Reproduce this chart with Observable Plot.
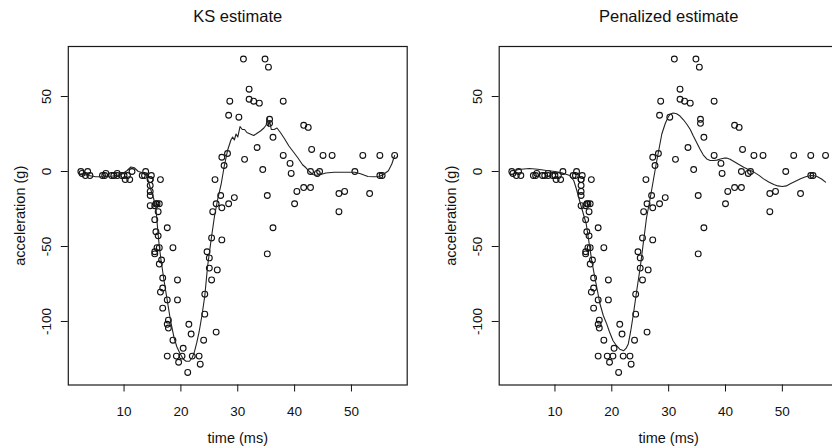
<!DOCTYPE html>
<html><head><meta charset="utf-8">
<script src="https://cdn.jsdelivr.net/npm/d3@7"></script>
<script src="https://cdn.jsdelivr.net/npm/@observablehq/plot@0.6"></script>
<style>
html,body{margin:0;padding:0;background:#fff;}
#wrap{position:relative;width:832px;height:448px;overflow:hidden;background:#fff;}
.panel{position:absolute;top:0;}
.panel svg{max-width:none !important;display:block;}
</style></head><body><div id="wrap"></div>
<script>
// mcycle data
const times = [2.4,2.6,3.2,3.6,4.0,6.2,6.6,6.8,7.8,8.2,8.8,8.8,9.6,10.0,10.2,10.6,11.0,11.4,13.2,13.6,13.8,14.6,14.6,14.6,14.6,14.6,14.6,14.8,15.4,15.4,15.4,15.4,15.6,15.6,15.8,15.8,16.0,16.0,16.2,16.2,16.2,16.4,16.4,16.6,16.8,16.8,16.8,17.6,17.6,17.6,17.6,17.8,17.8,18.6,18.6,19.2,19.4,19.4,19.6,20.2,20.4,21.2,21.4,21.8,22.0,23.2,23.4,24.0,24.2,24.2,24.6,25.0,25.0,25.4,25.4,25.6,26.0,26.2,26.2,26.4,27.0,27.2,27.2,27.2,27.6,28.2,28.4,28.4,28.6,29.4,30.2,31.0,31.2,32.0,32.0,32.8,33.4,33.8,34.4,34.8,35.2,35.2,35.4,35.6,35.6,36.2,36.2,38.0,38.0,39.2,39.4,40.0,40.4,41.6,41.6,42.4,42.8,42.8,43.0,44.0,44.4,45.0,46.6,47.8,47.8,48.8,50.6,52.0,53.2,55.0,55.0,55.4,57.6];
const accel = [0.0,-1.3,-2.7,0.0,-2.7,-2.7,-2.7,-1.3,-2.7,-2.7,-1.3,-2.7,-2.7,-2.7,-5.4,-2.7,-5.4,0.0,-2.7,-2.7,0.0,-13.3,-5.4,-5.4,-9.3,-16.0,-22.8,-2.7,-22.8,-32.1,-53.5,-54.9,-40.2,-21.5,-21.5,-50.8,-42.9,-26.8,-21.5,-50.8,-61.7,-5.4,-80.4,-59.0,-71.0,-91.1,-77.7,-37.5,-85.6,-123.1,-101.9,-99.1,-104.4,-112.5,-50.8,-123.1,-85.6,-72.3,-127.2,-123.1,-117.9,-134.0,-101.9,-108.4,-123.1,-123.1,-128.5,-112.5,-95.1,-81.8,-53.5,-64.4,-57.6,-72.3,-44.3,-26.8,-5.4,-107.1,-21.5,-65.6,-16.0,-45.6,-24.2,9.5,4.0,12.0,-21.5,37.5,46.9,-17.4,36.2,75.0,8.1,54.9,48.2,46.9,16.0,45.6,1.3,75.0,-16.0,-54.9,69.6,34.8,32.1,-37.5,22.8,46.9,10.7,5.4,-1.3,-21.5,-13.3,30.8,-10.7,29.4,0.0,-10.7,14.7,-1.3,0.0,10.7,10.7,-26.8,-14.7,-13.3,0.0,10.7,-14.7,-2.7,10.7,-2.7,10.7];

// KS estimate curve
const ksTime  = [2.4,3.5,5.0,6.5,8.0,9.5,10.5,11.2,11.8,12.5,13.5,14.0,14.7,15.2,15.6,15.9,16.2,16.5,17.0,17.6,18.2,18.8,19.3,19.8,20.4,20.9,21.5,22.0,22.4,22.8,23.2,23.7,24.2,24.7,25.3,25.9,26.5,27.1,27.6,28.2,28.8,29.1,29.4,29.7,30.0,30.4,30.8,31.2,31.6,32.2,32.8,33.4,34.0,34.6,35.0,35.2,35.4,35.6,35.9,36.4,36.9,37.5,38.2,39.0,39.8,40.6,41.4,42.0,42.6,43.2,43.8,44.6,45.5,47.0,49.0,50.6,51.6,52.9,54.0,54.9,55.6,56.5,57.1,57.6];
const ksAccel = [-1.5,-2.5,-3.5,-3.5,-3,-2,0.5,3,2.5,0,-1,-3,-12,-18,-24,-38,-50,-59,-72,-86,-100,-111,-117,-121,-125,-126.5,-126.5,-124,-120,-114,-107,-96,-83,-63,-46,-30,-18,-8,3,14,21,23,21,25,23,30,28,28,26,25,24,25.5,27,29,31,36,30,34,28,28,29,26,22,17,13,9,4.5,2.5,0,-2,-2.5,-2,-1,-0.5,-0.5,-0.5,-1.5,-3.3,-3.5,-3.3,-2,0.5,5,10.7];

// Penalized estimate curve
const penTime  = [2.4,4.0,5.5,7.0,8.5,10.0,11.4,12.6,13.3,13.8,14.3,14.9,15.5,16.1,16.5,17.0,17.5,17.9,18.5,19.1,19.6,20.2,20.8,21.4,22.1,22.5,22.9,23.3,23.8,24.4,25.0,25.6,26.1,26.7,27.3,27.9,28.4,28.8,29.4,29.9,30.3,30.8,31.4,32.0,32.6,33.2,33.8,34.3,34.9,35.5,36.1,36.7,37.3,37.9,38.5,39.1,39.7,40.2,40.8,41.4,42.3,43.2,44.1,45.0,45.9,46.7,47.6,48.5,49.2,50.0,50.7,51.4,52.3,53.2,54.1,55.0,55.6,56.1,56.9,57.6];
const penAccel = [0.5,1.5,2,1.5,0.7,0,-1.1,-2.7,-6,-12,-19,-27,-35,-50,-60,-70.4,-80,-88,-96,-101.6,-107,-112.7,-116,-118.5,-119.5,-118,-115,-107,-95,-79,-64,-46,-31,-19,-6,7,17,25,32,36.2,38.4,39,38.5,37,34.5,31.5,28,24,19.5,15,11,8.4,7.3,7.3,7.6,8.4,8.9,9,8.2,6.9,4.8,2.9,1.2,-0.4,-2.6,-4.9,-7,-8.7,-9.6,-10,-9.6,-8.2,-6.5,-4.9,-3.5,-2.7,-2.8,-3.3,-5,-7.1];

const xTicks = [10,20,30,40,50];
const yTicks = [-100,-50,0,50];
const titles = ["KS estimate","Penalized estimate"];
const xLabel = "time (ms)";
const yLabel = "acceleration (g)";

const pts = times.map((t,i)=>({t, a: accel[i]}));
const ks = ksTime.map((t,i)=>({t, a: ksAccel[i]}));
const pen = penTime.map((t,i)=>({t, a: penAccel[i]}));

const FONT = "'Liberation Sans', Arial, Helvetica, sans-serif";
const INK = "#111";

function panel(title, curve, left, width, marginLeft, marginRight) {
  const svg = Plot.plot({
    width, height: 448,
    marginTop: 46, marginBottom: 63.5, marginLeft, marginRight,
    x: {domain: [0.192, 59.808]},
    y: {domain: [-142.36, 83.36]},
    style: {fontFamily: FONT, fontSize: "13.5px", background: "white", color: INK, overflow: "visible", maxWidth: "none"},
    marks: [
      Plot.axisX({ticks: xTicks, tickSize: 7, tickPadding: 14, tickFormat: d => String(d), fontSize: 13.5, label: null, strokeWidth: 1}),
      Plot.axisY({ticks: yTicks, tickSize: 7, tickFormat: () => "", label: null, strokeWidth: 1}),
      Plot.text(yTicks, {y: d => d, text: d => String(d), frameAnchor: "left", dx: -21.5, rotate: -90, textAnchor: "middle", lineAnchor: "middle", fontSize: 13.5, fill: INK}),
      Plot.text([yLabel], {frameAnchor: "left", dx: -47.5, rotate: -90, textAnchor: "middle", lineAnchor: "middle", fontSize: 14.5, fill: INK}),
      Plot.text([xLabel], {frameAnchor: "bottom", dy: 53.5, textAnchor: "middle", lineAnchor: "middle", fontSize: 14.5, fill: INK}),
      Plot.text([title], {frameAnchor: "top", dy: -29.3, textAnchor: "middle", lineAnchor: "middle", fontSize: 16.5, fill: INK}),
      Plot.frame({stroke: "#1a1a1a", strokeWidth: 1.2}),
      Plot.dot(pts, {x: "t", y: "a", r: 2.9, stroke: INK, strokeWidth: 1.1, fill: "none"}),
      Plot.line(curve, {x: "t", y: "a", stroke: "#222", strokeWidth: 1.1})
    ]
  });
  const div = document.createElement("div");
  div.className = "panel";
  div.style.left = left + "px";
  div.style.width = width + "px";
  div.appendChild(svg);
  document.getElementById("wrap").appendChild(div);
}

panel(titles[0], ks, 0, 416, 67.8, 9.3);
panel(titles[1], pen, 416, 432, 82.7, 10.4);
</script></body></html>
